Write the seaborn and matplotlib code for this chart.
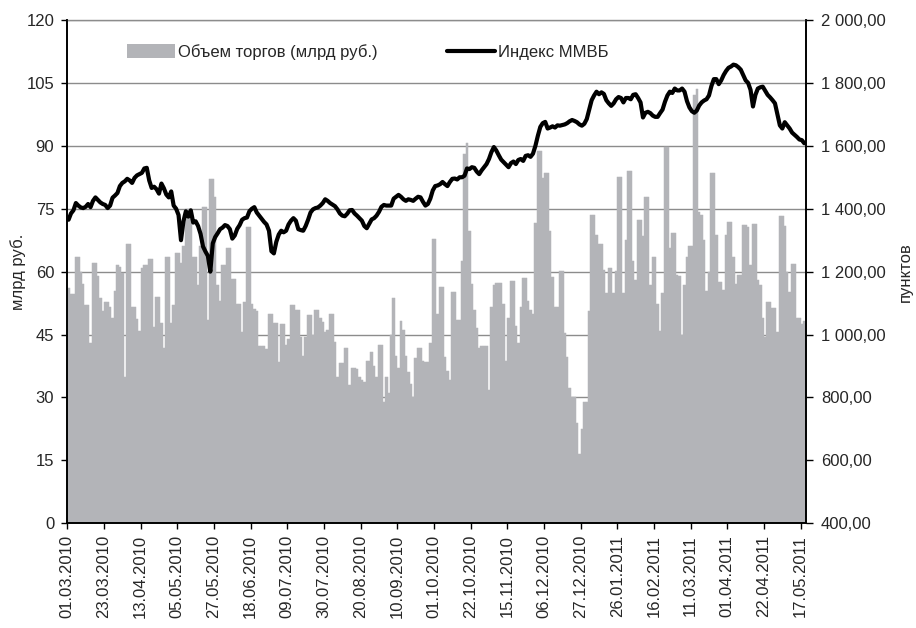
import numpy as np
import pandas as pd
import seaborn as sns
import matplotlib
matplotlib.use("Agg")
import matplotlib.pyplot as plt
from matplotlib.patches import Patch
from matplotlib.lines import Line2D
from matplotlib.ticker import FuncFormatter, MultipleLocator

# объем торгов, млрд руб. (по торговым дням, 01.03.2010 - 18.05.2011)
volume = [
    56, 54.6, 54.6, 63.6, 63.6, 60, 57, 52, 52, 43, 62, 62, 59, 53.6, 50.5, 52.7, 52.7, 51.6, 49, 55.4,
    61.7, 61, 59.6, 35, 66.5, 66.5, 51.6, 51.6, 48.8, 45.8, 60.8, 61.6, 61.6, 63, 63, 46.9, 54, 54, 47.7, 41.7,
    63.4, 63.4, 47.7, 52,
    64.4, 64.4, 62, 66, 74.9, 74.9, 73, 63.6, 63.6, 56.8, 66, 75.4, 75.4, 48.5, 82.1, 82.1, 77.7, 56.8, 53, 61.7,
    61.7, 65.6, 65.6, 58.2, 58.2, 52.4, 52.4, 45.7, 52.7, 70.7, 70.7, 52.2, 51, 50.6, 42.3, 42.3, 42.3, 41.5, 50, 50,
    47.7, 47.7, 38.5, 47.4,
    47.4, 42.5, 44, 52, 52, 50.8, 50.8, 44.5, 40, 44.5, 49.6, 49.6, 45, 50.8, 50.8, 49, 48, 45.5, 46, 50,
    50, 43.3, 35, 38.2, 38.2, 41.9, 41.9, 32.9, 37, 37, 36.7, 35, 34.1, 33.7, 38.8, 38.8, 40.9, 37.5, 35, 42.5,
    42.5, 29, 35, 31,
    44.9, 53.6, 40, 37, 48.2, 46, 40, 36, 33.3, 30.2, 39.5, 41.9, 41.9, 38.7, 38.4, 38.4, 43.1, 67.7, 67.7, 50,
    56.4, 56.4, 39.7, 36.3, 34.1, 55.1, 55.1, 48.5, 48.5, 62.5, 88, 90.6, 69.7, 57, 50.8, 46.6, 41.7, 42.2, 42.2, 42.2,
    31.8, 51.6, 56.7, 57.2,
    57.2, 57.2, 52.4, 38.8, 49, 57.8, 57.8, 47, 42.9, 51.6, 58.4, 58.4, 53, 50.8, 50, 71.5, 88.8, 88.8, 82.4, 83.5,
    83.5, 69.7, 58.8, 51.6, 51.6, 60.2, 60.2, 45.3, 39.7, 32.3, 30.2, 30.2, 23.8, 16.6, 22.6, 29, 29, 50.5, 73.6, 73.6,
    68.8, 66.6, 66.6, 60.4, 54.9,
    60.8, 60.8, 55, 60.2, 82.5, 82.5, 55, 67.6, 83.9, 83.9, 62.6, 58, 72.3, 72.3, 68.4, 77.7, 77.7, 56.8, 63.4, 63.4,
    52.4, 45.8, 55, 89.8, 89.8, 65.6, 69.2, 69.2, 59.2, 59, 45, 56.8, 63.6, 66, 66, 102, 103.5, 74.3, 73.4, 67.6,
    55.3, 60, 83.4, 83.4,
    68.7, 57.6, 57.6, 55.6, 68.7, 71.8, 71.8, 63.6, 57, 59.2, 59.2, 71.1, 71.1, 70.7, 61.6, 71.3, 71.3, 58, 56.8, 49,
    44.5, 52.7, 52.7, 51.4, 51.4, 45.7, 73.2, 73.2, 71, 60, 55.1, 61.8, 61.8, 49, 49, 47.5, 48.3,
]

# индекс ММВБ, пунктов
micex = [
    1365, 1385, 1395, 1418, 1410, 1404, 1402, 1406, 1415, 1405, 1425, 1436, 1428, 1420, 1415, 1412, 1402, 1410, 1435, 1442,
    1450, 1472, 1482, 1487, 1495, 1490, 1482, 1498, 1506, 1510, 1514, 1528, 1530, 1490, 1466, 1470, 1462, 1448, 1480, 1465,
    1445, 1436, 1455, 1410,
    1400, 1380, 1300, 1360, 1392, 1375, 1395, 1356, 1360, 1345, 1320, 1280, 1264, 1250, 1200, 1290, 1310, 1322, 1335, 1340,
    1348, 1345, 1335, 1305, 1315, 1336, 1348, 1365, 1370, 1372, 1392, 1400, 1405, 1388, 1378, 1368, 1358, 1350, 1330, 1265,
    1258, 1295, 1318, 1330,
    1325, 1330, 1350, 1362, 1370, 1362, 1335, 1332, 1330, 1345, 1365, 1388, 1398, 1402, 1404, 1410, 1418, 1430, 1425, 1418,
    1413, 1408, 1398, 1385, 1378, 1376, 1384, 1395, 1396, 1385, 1378, 1370, 1362, 1345, 1338, 1352, 1366, 1370, 1378, 1390,
    1406, 1412, 1410, 1410,
    1410, 1432, 1438, 1444, 1438, 1430, 1425, 1430, 1428, 1425, 1432, 1438, 1436, 1422, 1410, 1415, 1432, 1458, 1472, 1474,
    1478, 1485, 1478, 1472, 1485, 1495, 1496, 1493, 1500, 1500, 1505, 1528, 1526, 1532, 1530, 1518, 1510, 1522, 1532, 1542,
    1558, 1580, 1596, 1585,
    1570, 1556, 1548, 1540, 1532, 1545, 1550, 1542, 1555, 1558, 1552, 1568, 1570, 1565, 1575, 1600, 1632, 1660, 1672, 1676,
    1655, 1658, 1662, 1658, 1665, 1664, 1666, 1668, 1672, 1678, 1682, 1679, 1675, 1668, 1664, 1670, 1685, 1715, 1745, 1760,
    1772, 1764, 1770, 1765, 1745,
    1735, 1727, 1735, 1748, 1755, 1752, 1738, 1752, 1752, 1748, 1762, 1764, 1752, 1738, 1690, 1705, 1708, 1704, 1696, 1692,
    1692, 1704, 1715, 1740, 1760, 1772, 1768, 1782, 1776, 1776, 1782, 1772, 1742, 1722, 1710, 1705, 1712, 1728, 1738, 1744,
    1748, 1760, 1790, 1812,
    1812, 1796, 1808, 1825, 1838, 1848, 1852, 1858, 1856, 1850, 1842, 1825, 1808, 1800, 1778, 1725, 1762, 1782, 1786, 1788,
    1775, 1762, 1754, 1745, 1735, 1700, 1665, 1655, 1675, 1665, 1655, 1642, 1635, 1628, 1620, 1618, 1608,
]

# подписи дат (каждый 15-й торговый день)
date_labels = [
    "01.03.2010", "23.03.2010", "13.04.2010", "05.05.2010", "27.05.2010", "18.06.2010", "09.07.2010",
    "30.07.2010", "20.08.2010", "10.09.2010", "01.10.2010", "22.10.2010", "15.11.2010", "06.12.2010",
    "27.12.2010", "26.01.2011", "16.02.2011", "11.03.2011", "01.04.2011", "22.04.2011", "17.05.2011",
]

df = pd.DataFrame({"day": np.arange(len(volume)), "volume": volume, "index": micex})

sns.set_style("white")
plt.rcParams["font.family"] = ["Liberation Sans", "DejaVu Sans"]
plt.rcParams["font.size"] = 12

bar_color = "#b3b4b8"
grid_color = "#8c8c8c"

fig = plt.figure(figsize=(9.16, 6.28), dpi=100)
ax = fig.add_axes([0.0735, 0.1667, 0.8059, 0.8015])

# тонкая обводка цветом столбца, чтобы не было белых щелей между соседними днями
sns.barplot(data=df, x="day", y="volume", color=bar_color, saturation=1, width=1.0,
            errorbar=None, linewidth=0.35, edgecolor=bar_color, ax=ax)
ax.set_axisbelow(True)

ax2 = ax.twinx()
sns.lineplot(data=df, x="day", y="index", color="black", linewidth=3.0, ax=ax2)

# оси
n = len(volume)
ax.set_xlim(-0.5, n - 0.5)
ax.set_ylim(0, 120)
ax.yaxis.set_major_locator(MultipleLocator(15))
ax2.set_ylim(400, 2000)
ax2.yaxis.set_major_locator(MultipleLocator(200))
ax2.yaxis.set_major_formatter(FuncFormatter(
    lambda v, _: f"{v:,.2f}".replace(",", " ").replace(".", ",")))

ax.grid(axis="y", color=grid_color, linewidth=1.0)
ax.grid(axis="x", visible=False)
ax2.grid(False)

ax.set_xticks([k * 15 - 0.5 for k in range(len(date_labels))])
ax.set_xticklabels(date_labels, rotation=90, fontsize=12)
ax.set_xlim(-0.5, n - 0.5)

ax.tick_params(axis="x", direction="inout", length=9, width=1, color="black", pad=4, bottom=True)
ax.tick_params(axis="y", direction="out", length=4.5, width=1, color="black", pad=5, left=True, labelsize=12)
ax2.tick_params(axis="y", direction="out", length=5, width=1, color="black", pad=6, right=True, labelsize=12)

for a in (ax, ax2):
    for side in ("left", "right", "bottom"):
        a.spines[side].set_color("black")
        a.spines[side].set_linewidth(1.2)
ax.spines["top"].set_color(grid_color)
ax.spines["top"].set_linewidth(1.0)
ax2.spines["top"].set_visible(False)

ax.set_xlabel("")
ax.set_ylabel("млрд руб.", fontsize=12, labelpad=0)
ax2.set_xlabel("")
ax2.set_ylabel("пунктов", fontsize=12, rotation=90, labelpad=9)

# легенда
leg1 = ax2.legend([Patch(facecolor=bar_color, edgecolor="none")], ["Объем торгов (млрд руб.)"],
                  loc="center left", bbox_to_anchor=(0.081, 0.936), frameon=False, fontsize=12,
                  borderpad=0, borderaxespad=0, handlelength=2.9, handleheight=0.9, handletextpad=0.15)
ax2.add_artist(leg1)
ax2.legend([Line2D([0], [0], color="black", linewidth=3.0)], ["Индекс ММВБ"],
           loc="center left", bbox_to_anchor=(0.514, 0.936), frameon=False, fontsize=12,
           borderpad=0, borderaxespad=0, handlelength=2.9, handletextpad=0.15)

plt.savefig("out.png", dpi=100)
